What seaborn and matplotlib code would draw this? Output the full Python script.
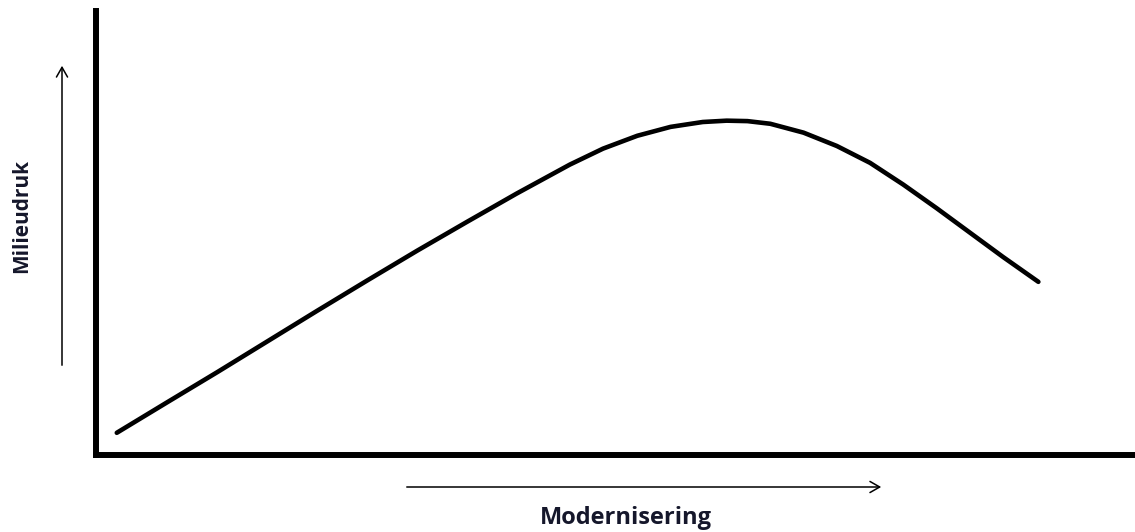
import numpy as np
import pandas as pd
import matplotlib.pyplot as plt
import seaborn as sns

# modernisering (x) vs milieudruk (y), both on a 0-100 scale
modernisering = [2.0, 6.8, 11.7, 16.5, 21.3, 26.1, 30.9, 35.7, 40.5, 45.6,
                 48.8, 52.1, 55.3, 58.4, 60.7, 62.7, 64.9, 68.1, 71.3, 74.5,
                 77.7, 80.9, 84.1, 87.3, 90.7]
milieudruk = [5.0, 11.8, 18.7, 25.6, 32.5, 39.3, 46.0, 52.5, 58.9, 65.4,
              69.0, 71.9, 73.9, 75.0, 75.3, 75.2, 74.6, 72.6, 69.6, 65.8,
              60.9, 55.6, 50.1, 44.6, 39.0]

x_label = 'Modernisering'
y_label = 'Milieudruk'

sns.set_style('white')
plt.rcParams['font.family'] = ['Open Sans', 'DejaVu Sans']

W, H = 1135, 532
fig = plt.figure(figsize=(W / 100, H / 100), dpi=100)
ax = fig.add_axes([96 / W, 1 - 455 / H, (W - 96) / W, (455 - 11) / H])

df = pd.DataFrame({'x': modernisering, 'y': milieudruk})
sns.lineplot(data=df, x='x', y='y', ax=ax, color='black', linewidth=3.3,
             solid_capstyle='round', solid_joinstyle='round', sort=False)

ax.set_xlim(0, 100)
ax.set_ylim(0, 100)
ax.set_xticks([])
ax.set_yticks([])
ax.set_xlabel('')
ax.set_ylabel('')
for side in ['top', 'right']:
    ax.spines[side].set_visible(False)
for side in ['left', 'bottom']:
    ax.spines[side].set_color('black')
    ax.spines[side].set_linewidth(4.3)
    ax.spines[side].set_capstyle('projecting')

# loose arrows beside the axes
arrow = dict(arrowstyle='->,head_length=0.7,head_width=0.4', color='black', lw=1.1)
ax.annotate('', xy=(62, H - 63), xytext=(62, H - 368), xycoords='figure pixels',
            textcoords='figure pixels', arrowprops=arrow)
ax.annotate('', xy=(884, H - 487), xytext=(404, H - 487), xycoords='figure pixels',
            textcoords='figure pixels', arrowprops=arrow)

txt_color = '#15172b'
fig.text(22 / W, 1 - 216 / H, y_label, rotation=90, ha='center', va='center',
         fontsize=15, fontweight='bold', color=txt_color)
fig.text(626 / W, 1 - 518 / H, x_label, ha='center', va='center',
         fontsize=17, fontweight='bold', color=txt_color)

fig.savefig('out.png', dpi=100)
